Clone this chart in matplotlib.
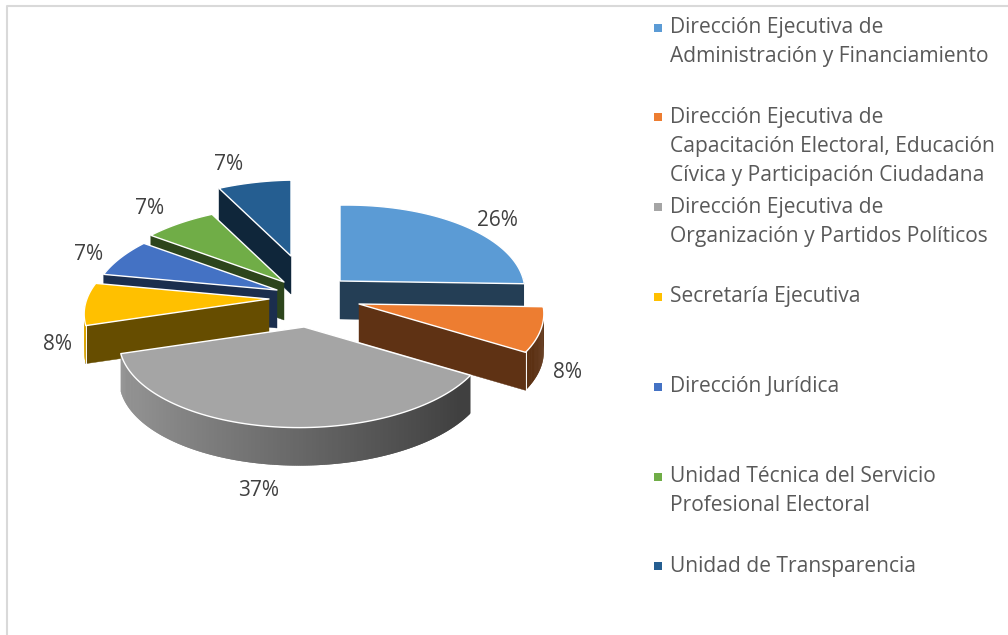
import numpy as np
import matplotlib.pyplot as plt
from matplotlib.collections import PolyCollection

plt.rcParams['font.family'] = ['Open Sans', 'DejaVu Sans']

# data
names = [
    ['Dirección Ejecutiva de', 'Administración y Financiamiento'],
    ['Dirección Ejecutiva de', 'Capacitación Electoral, Educación', 'Cívica y Participación Ciudadana'],
    ['Dirección Ejecutiva de', 'Organización y Partidos Políticos'],
    ['Secretaría Ejecutiva'],
    ['Dirección Jurídica'],
    ['Unidad Técnica del Servicio', 'Profesional Electoral'],
    ['Unidad de Transparencia'],
]
values = [26.0, 8.1, 36.6, 7.8, 7.0, 7.2, 7.3]
colors = ['#5B9BD5', '#ED7D31', '#A5A5A5', '#FFC000', '#4472C4', '#70AD47', '#255E91']

# how far each slice is pulled out of the centre, in pixels
explode_x = [38, 57, 2, -33, -25, -18, -11]
explode_y = [-18, 5, 28, 0, -9, -17, -43]
label_x = [497, 567, 259, 58, 89, 150, 229]
label_y = [220, 373, 490, 344, 255, 209, 164]

# back to front
draw_order = [6, 5, 4, 3, 0, 1, 2]

center_x, center_y = 302, 299
rx, ry = 183, 86.5
persp = 0.14
tilt = 0.015
depth = 38


def project(theta, x0, y0):
    # theta is in degrees, clockwise from north
    t = np.radians(theta)
    s = 1 / (1 + persp * np.cos(t))
    return x0 + rx * np.sin(t) * s, y0 - ry * np.cos(t) * s - tilt * rx * np.sin(t)


def shade(color, f):
    rgb = np.array(plt.matplotlib.colors.to_rgb(color))
    return tuple(rgb * f)


def faces_viewer(a, mid, x0, y0):
    # a cut wall shows when the slice lies above its edge on screen
    ex, ey = project(a, x0, y0)
    mx, my = project(mid, x0, y0)
    if abs(ex - x0) < 1:
        return False
    return my < y0 + (mx - x0) * (ey - y0) / (ex - x0)


fig = plt.figure(figsize=(10.08, 6.35), dpi=100)
ax = fig.add_axes([0, 0, 1, 1])
ax.set_xlim(0, 1008)
ax.set_ylim(635, 0)
ax.axis('off')

# frame
ax.plot([6.5, 6.5, 1008], [635, 5.5, 5.5], color='#D9D9D9', lw=1.5, zorder=1)

edges = np.cumsum([0] + values) / sum(values) * 360

for z, i in enumerate(draw_order):
    base = 10 + z * 5
    x0 = center_x + explode_x[i]
    y0 = center_y + explode_y[i]
    a1, a2 = edges[i], edges[i + 1]
    c = colors[i]

    # cut walls
    front_edges = []
    for a in (a1, a2):
        if faces_viewer(a, (a1 + a2) / 2, x0, y0):
            front_edges.append(a)
            ex, ey = project(a, x0, y0)
            ax.fill([x0, ex, ex, x0], [y0, ey, ey + depth, y0 + depth],
                    color=shade(c, 0.4), lw=0.3, zorder=base)

    # outer wall, only the part turned to the viewer
    thetas = np.arange(a1, a2 + 0.5, 0.5)
    thetas[-1] = a2
    strips = []
    strip_colors = []
    for k in range(len(thetas) - 1):
        mid = (thetas[k] + thetas[k + 1]) / 2
        if np.cos(np.radians(mid)) > 0.03:
            continue
        # each strip runs under the next one so no seams show
        xa, ya = project(thetas[k], x0, y0)
        xb, yb = project(thetas[min(k + 2, len(thetas) - 1)], x0, y0)
        strips.append([(xa, ya), (xb, yb), (xb, yb + depth), (xa, ya + depth)])
        f = np.clip(0.62 - 0.3 * np.sin(np.radians(mid)), 0.39, 0.87)
        strip_colors.append(shade(c, f))
    if strips:
        ax.add_collection(PolyCollection(strips, facecolors=strip_colors, edgecolors='none',
                                         linewidths=0, zorder=base + 1))
        for a in front_edges:
            if np.cos(np.radians(a)) < 0.03:
                ex, ey = project(a, x0, y0)
                ax.plot([ex, ex], [ey, ey + depth], color='white', lw=0.7, zorder=base + 2)

    # top face
    arc = np.linspace(a1, a2, 80)
    arc_x, arc_y = project(arc, x0, y0)
    ax.fill(np.r_[x0, arc_x], np.r_[y0, arc_y], facecolor=c, edgecolor='white', lw=1.0,
            joinstyle='round', zorder=base + 3)

# data labels
for i in range(len(values)):
    ax.text(label_x[i], label_y[i], '%.0f%%' % values[i], fontsize=15, color='#404040',
            ha='center', va='center', zorder=60)

# legend
legend_x = 670
legend_top = 27.5
row_step = 89.8
line_step = 29
for i in range(len(names)):
    y = legend_top + i * row_step
    ax.plot([657.5], [y], marker='s', ms=5.6, mew=0, color=colors[i], zorder=60)
    for j in range(len(names[i])):
        ax.text(legend_x, y + j * line_step, names[i][j], fontsize=15.1, color='#595959',
                ha='left', va='center', zorder=60)

fig.savefig('out.png', dpi=100, facecolor='white')
